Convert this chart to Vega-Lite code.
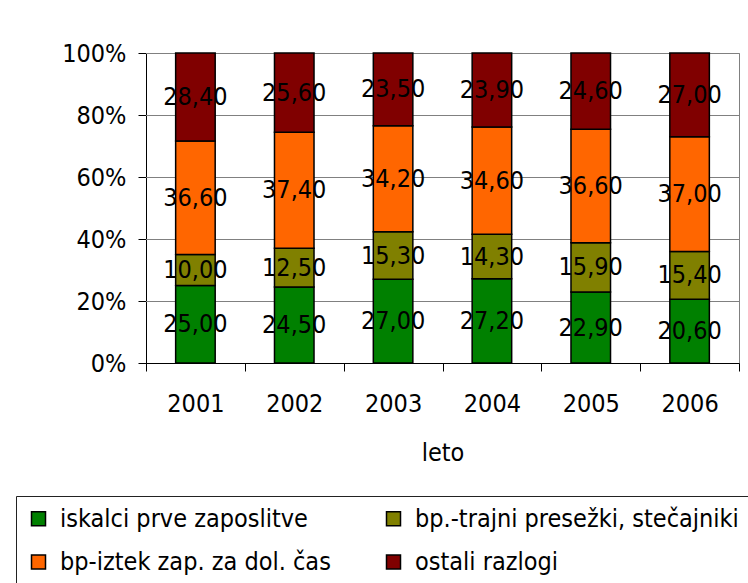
{
  "$schema": "https://vega.github.io/schema/vega-lite/v6.json",
  "width": 593,
  "height": 310,
  "autosize": {"type": "none"},
  "padding": {"left": 146, "top": 53, "right": 9, "bottom": 220},
  "background": "white",
  "datasets": {
    "shares": [
      {"leto": "2001", "series": "iskalci prve zaposlitve", "k": 1, "value": 25.0},
      {"leto": "2001", "series": "bp.-trajni presežki, stečajniki", "k": 2, "value": 10.0},
      {"leto": "2001", "series": "bp-iztek zap. za dol. čas", "k": 3, "value": 36.6},
      {"leto": "2001", "series": "ostali razlogi", "k": 4, "value": 28.4},
      {"leto": "2002", "series": "iskalci prve zaposlitve", "k": 1, "value": 24.5},
      {"leto": "2002", "series": "bp.-trajni presežki, stečajniki", "k": 2, "value": 12.5},
      {"leto": "2002", "series": "bp-iztek zap. za dol. čas", "k": 3, "value": 37.4},
      {"leto": "2002", "series": "ostali razlogi", "k": 4, "value": 25.6},
      {"leto": "2003", "series": "iskalci prve zaposlitve", "k": 1, "value": 27.0},
      {"leto": "2003", "series": "bp.-trajni presežki, stečajniki", "k": 2, "value": 15.3},
      {"leto": "2003", "series": "bp-iztek zap. za dol. čas", "k": 3, "value": 34.2},
      {"leto": "2003", "series": "ostali razlogi", "k": 4, "value": 23.5},
      {"leto": "2004", "series": "iskalci prve zaposlitve", "k": 1, "value": 27.2},
      {"leto": "2004", "series": "bp.-trajni presežki, stečajniki", "k": 2, "value": 14.3},
      {"leto": "2004", "series": "bp-iztek zap. za dol. čas", "k": 3, "value": 34.6},
      {"leto": "2004", "series": "ostali razlogi", "k": 4, "value": 23.9},
      {"leto": "2005", "series": "iskalci prve zaposlitve", "k": 1, "value": 22.9},
      {"leto": "2005", "series": "bp.-trajni presežki, stečajniki", "k": 2, "value": 15.9},
      {"leto": "2005", "series": "bp-iztek zap. za dol. čas", "k": 3, "value": 36.6},
      {"leto": "2005", "series": "ostali razlogi", "k": 4, "value": 24.6},
      {"leto": "2006", "series": "iskalci prve zaposlitve", "k": 1, "value": 20.6},
      {"leto": "2006", "series": "bp.-trajni presežki, stečajniki", "k": 2, "value": 15.4},
      {"leto": "2006", "series": "bp-iztek zap. za dol. čas", "k": 3, "value": 37.0},
      {"leto": "2006", "series": "ostali razlogi", "k": 4, "value": 27.0}
    ],
    "gridlines": [
      {"g": 0.2}, {"g": 0.4}, {"g": 0.6}, {"g": 0.8}, {"g": 1}
    ]
  },
  "layer": [
    {
      "data": {"name": "gridlines"},
      "mark": {"type": "rule", "color": "#808080", "strokeWidth": 1, "yOffset": 0.5},
      "encoding": {
        "x": {"value": 0},
        "x2": {"value": "width"},
        "y": {
          "field": "g",
          "type": "quantitative",
          "scale": {"domain": [0, 1]},
          "axis": {
            "format": ".0%",
            "values": [0, 0.2, 0.4, 0.6, 0.8, 1],
            "title": null,
            "labelFontSize": 25,
            "labelColor": "black",
            "domainColor": "black",
            "tickColor": "black",
            "tickSize": 8,
            "labelPadding": 12,
            "grid": true,
            "gridColor": "#808080",
            "gridWidth": 1,
            "gridOpacity": 1
          }
        }
      }
    },
    {
      "data": {"name": "shares"},
      "mark": {"type": "bar", "width": {"band": 0.4}, "stroke": "black", "strokeWidth": 1.5},
      "encoding": {
        "x": {
          "field": "leto",
          "type": "ordinal",
          "title": "leto",
          "scale": {"paddingInner": 0, "paddingOuter": 0},
          "axis": {
            "labelAngle": 0,
            "labelFontSize": 25,
            "labelColor": "black",
            "tickBand": "extent",
            "tickSize": 8,
            "tickColor": "black",
            "domainColor": "black",
            "labelPadding": 20,
            "titleFontSize": 25,
            "titleFontWeight": "normal",
            "titleColor": "black",
            "titlePadding": 24,
            "grid": false
          }
        },
        "y": {
          "field": "value",
          "type": "quantitative",
          "stack": "normalize",
          "scale": {"domain": [0, 1]},
          "axis": {
            "format": ".0%",
            "values": [0, 0.2, 0.4, 0.6, 0.8, 1],
            "title": null,
            "labelFontSize": 25,
            "labelColor": "black",
            "domainColor": "black",
            "tickColor": "black",
            "tickSize": 8,
            "labelPadding": 12,
            "grid": true,
            "gridColor": "#808080",
            "gridWidth": 1,
            "gridOpacity": 1
          }
        },
        "color": {
          "field": "series",
          "type": "nominal",
          "scale": {
            "domain": ["iskalci prve zaposlitve", "bp.-trajni presežki, stečajniki", "bp-iztek zap. za dol. čas", "ostali razlogi"],
            "range": ["#008000", "#808000", "#FF6600", "#800000"]
          },
          "legend": {
            "orient": "none",
            "legendX": -130,
            "legendY": 443,
            "columns": 2,
            "direction": "horizontal",
            "title": null,
            "symbolType": "square",
            "symbolSize": 196,
            "symbolStrokeColor": "black",
            "symbolStrokeWidth": 1.5,
            "labelFontSize": 25,
            "labelColor": "black",
            "labelOffset": 9,
            "labelLimit": 500,
            "columnPadding": 50,
            "rowPadding": 17.5,
            "padding": 10,
            "strokeColor": "#222222"
          }
        },
        "order": {"field": "k", "type": "quantitative"}
      }
    },
    {
      "data": {"name": "shares"},
      "mark": {"type": "text", "fontSize": 25, "color": "black", "baseline": "middle", "align": "center"},
      "encoding": {
        "x": {
          "field": "leto",
          "type": "ordinal",
          "title": "leto",
          "scale": {"paddingInner": 0, "paddingOuter": 0},
          "axis": {
            "labelAngle": 0,
            "labelFontSize": 25,
            "labelColor": "black",
            "tickBand": "extent",
            "tickSize": 8,
            "tickColor": "black",
            "domainColor": "black",
            "labelPadding": 20,
            "titleFontSize": 25,
            "titleFontWeight": "normal",
            "titleColor": "black",
            "titlePadding": 24,
            "grid": false
          }
        },
        "y": {
          "field": "value",
          "type": "quantitative",
          "stack": "normalize",
          "bandPosition": 0.5,
          "scale": {"domain": [0, 1]},
          "axis": {
            "format": ".0%",
            "values": [0, 0.2, 0.4, 0.6, 0.8, 1],
            "title": null,
            "labelFontSize": 25,
            "labelColor": "black",
            "domainColor": "black",
            "tickColor": "black",
            "tickSize": 8,
            "labelPadding": 12,
            "grid": true,
            "gridColor": "#808080",
            "gridWidth": 1,
            "gridOpacity": 1
          }
        },
        "detail": {"field": "series"},
        "order": {"field": "k", "type": "quantitative"},
        "text": {"field": "value", "type": "quantitative", "format": ".2f"}
      }
    }
  ],
  "config": {
    "font": "DejaVu Sans Condensed, DejaVu Sans",
    "view": {"stroke": "#808080"},
    "locale": {"number": {"decimal": ",", "thousands": ".", "grouping": [3], "currency": ["", " €"]}}
  }
}
